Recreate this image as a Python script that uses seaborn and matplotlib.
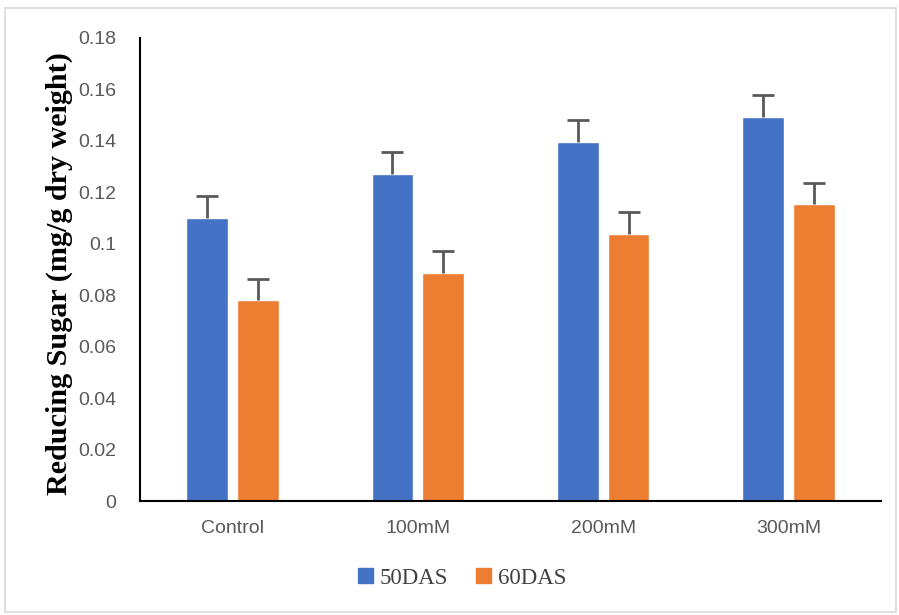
import matplotlib
matplotlib.use("Agg")
import matplotlib.pyplot as plt
import seaborn as sns
import pandas as pd
import numpy as np
from matplotlib.patches import Rectangle, Patch

categories = ["Control", "100mM", "200mM", "300mM"]
series = ["50DAS", "60DAS"]
values_50 = [0.110, 0.127, 0.1397, 0.1492]
values_60 = [0.078, 0.0888, 0.1038, 0.1154]
err_50 = [0.0087, 0.0088, 0.0084, 0.0087]
err_60 = [0.0083, 0.0082, 0.0087, 0.0082]
yticks = [0, 0.02, 0.04, 0.06, 0.08, 0.1, 0.12, 0.14, 0.16, 0.18]
ytick_labels = ["0", "0.02", "0.04", "0.06", "0.08", "0.1", "0.12", "0.14", "0.16", "0.18"]

df = pd.DataFrame({
    "cat": categories * 2,
    "series": [series[0]] * 4 + [series[1]] * 4,
    "val": values_50 + values_60,
    "err": err_50 + err_60,
})

sns.set_theme(style="white")
fig = plt.figure(figsize=(8.99, 6.15), dpi=100)
ax = fig.add_axes([140/899, 114/615, 741/899, 463/615])

palette = {"50DAS": "#4472C4", "60DAS": "#ED7D31"}
sns.barplot(data=df, x="cat", y="val", hue="series", palette=palette,
            order=categories, hue_order=series, width=0.55, gap=0.18,
            saturation=1, errorbar=None, ax=ax, legend=False)

# error bars (upper only) from data, positioned at bar centers
for i, s in enumerate(series):
    cont = ax.containers[i]
    sub = df[df.series == s].set_index("cat").loc[categories]
    xs = [p.get_x() + p.get_width()/2 for p in cont.patches]
    _, caps, _ = ax.errorbar(xs, sub["val"].values,
                             yerr=[np.zeros(len(xs)), sub["err"].values],
                             fmt="none", ecolor="#595959", elinewidth=2,
                             capsize=8, capthick=2, zorder=3)
    caps[0].set_visible(False)

ax.set_ylim(0, 0.18)
ax.set_xlim(-0.5, 3.5)
ax.set_yticks(yticks)
ax.set_yticklabels(ytick_labels)
ax.tick_params(axis="both", length=0, labelsize=14, labelcolor="#595959")
ax.tick_params(axis="y", pad=17)
ax.tick_params(axis="x", pad=14)
for lab in ax.get_xticklabels() + ax.get_yticklabels():
    lab.set_family(["Liberation Sans", "DejaVu Sans"])
ax.set_xlabel("")
ax.set_ylabel("Reducing Sugar (mg/g dry weight)", fontsize=21.7, fontweight="bold",
              family=["Liberation Serif", "DejaVu Serif"], color="black")
ax.yaxis.set_label_coords(-0.090, 0.491)
for sp in ["top", "right"]:
    ax.spines[sp].set_visible(False)
for sp in ["left", "bottom"]:
    ax.spines[sp].set_color("black")
    ax.spines[sp].set_linewidth(1.5)

handles = [Patch(color=palette[s]) for s in series]
fig.legend(handles, series, loc="center", bbox_to_anchor=(462/899, 1 - 578/615),
           ncol=2, frameon=False, prop={"family": ["Liberation Serif", "DejaVu Serif"], "size": 16.5},
           handlelength=0.65, handleheight=0.65, handletextpad=0.3, columnspacing=1.2,
           labelcolor="#404040")

fig.patches.append(Rectangle((5/899, 3/615), 891/899, 604/615, transform=fig.transFigure,
                             fill=False, edgecolor="#D9D9D9", linewidth=1.2))

fig.savefig("out.png", dpi=100, facecolor="white")
